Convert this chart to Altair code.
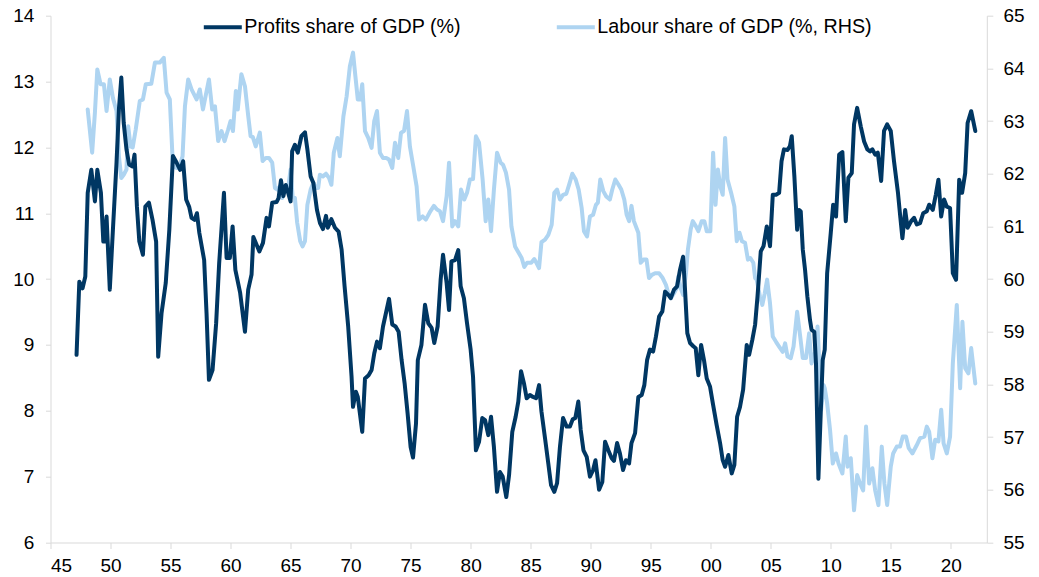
import altair as alt
import pandas as pd

PROFITS = "Profits share of GDP (%)"
LABOUR = "Labour share of GDP (%, RHS)"

profit_years = [
    1947.17, 1947.4, 1947.67, 1947.9, 1948.1, 1948.4, 1948.7, 1948.9, 1949.2, 1949.4, 1949.5, 1949.67, 1949.94,
    1950.2, 1950.5, 1950.7, 1950.9, 1951.1, 1951.33, 1951.55, 1951.83, 1952.0, 1952.2, 1952.4, 1952.7, 1952.9,
    1953.2, 1953.5, 1953.8, 1953.97, 1954.25, 1954.6, 1954.9, 1955.2, 1955.5, 1955.8, 1956.05, 1956.3, 1956.55,
    1956.75, 1957.0, 1957.2, 1957.4, 1957.8, 1958.0, 1958.2, 1958.5, 1958.8, 1959.05, 1959.45, 1959.67, 1959.94,
    1960.17, 1960.4, 1960.8, 1961.2, 1961.47, 1961.75, 1961.9, 1962.4, 1962.7, 1963.0, 1963.2, 1963.47, 1963.83,
    1964.0, 1964.2, 1964.4, 1964.6, 1964.8, 1965.0, 1965.13, 1965.36, 1965.6, 1965.9, 1966.2, 1966.4, 1966.67,
    1966.9, 1967.2, 1967.45, 1967.7, 1967.95, 1968.1, 1968.4, 1968.7, 1969.0, 1969.25, 1969.5, 1969.8, 1970.08,
    1970.2, 1970.44, 1970.6, 1970.97, 1971.2, 1971.5, 1971.75, 1971.97, 1972.2, 1972.44, 1972.7, 1973.0, 1973.2,
    1973.47, 1973.75, 1974.0, 1974.25, 1974.5, 1974.75, 1975.0, 1975.2, 1975.45, 1975.6, 1975.9, 1976.2, 1976.47,
    1976.75, 1976.97, 1977.25, 1977.5, 1977.7, 1978.0, 1978.2, 1978.4, 1978.7, 1978.97, 1979.17, 1979.44, 1979.7,
    1980.0, 1980.2, 1980.44, 1980.7, 1980.97, 1981.2, 1981.47, 1981.7, 1981.94, 1982.2, 1982.44, 1982.67, 1982.97,
    1983.2, 1983.47, 1983.75, 1983.97, 1984.2, 1984.44, 1984.67, 1984.94, 1985.2, 1985.45, 1985.7, 1985.9, 1986.2,
    1986.47, 1986.7, 1986.97, 1987.2, 1987.44, 1987.7, 1988.0, 1988.27, 1988.5, 1988.72, 1988.97, 1989.17, 1989.4,
    1989.67, 1989.94, 1990.2, 1990.4, 1990.7, 1990.97, 1991.2, 1991.47, 1991.75, 1991.94, 1992.2, 1992.44, 1992.7,
    1992.94, 1993.2, 1993.4, 1993.7, 1993.97, 1994.25, 1994.47, 1994.7, 1994.94, 1995.2, 1995.44, 1995.7, 1995.97,
    1996.2, 1996.47, 1996.67, 1996.94, 1997.2, 1997.44, 1997.7, 1997.86, 1998.05, 1998.28, 1998.55, 1998.75,
    1998.97, 1999.2, 1999.44, 1999.67, 1999.94, 2000.2, 2000.5, 2000.78, 2001.0, 2001.2, 2001.47, 2001.75, 2001.97,
    2002.2, 2002.44, 2002.7, 2003.0, 2003.2, 2003.47, 2003.7, 2003.9, 2004.17, 2004.4, 2004.67, 2004.94, 2005.17,
    2005.44, 2005.7, 2005.9, 2006.1, 2006.4, 2006.6, 2006.75, 2006.97, 2007.2, 2007.35, 2007.5, 2007.67, 2007.86,
    2008.05, 2008.27, 2008.4, 2008.63, 2008.77, 2008.97, 2009.17, 2009.33, 2009.5, 2009.7, 2010.0, 2010.2, 2010.44,
    2010.7, 2010.97, 2011.25, 2011.47, 2011.75, 2011.94, 2012.2, 2012.5, 2012.78, 2013.05, 2013.27, 2013.47,
    2013.7, 2013.92, 2014.2, 2014.44, 2014.7, 2015.0, 2015.27, 2015.6, 2015.8, 2015.97, 2016.2, 2016.4, 2016.7,
    2016.94, 2017.17, 2017.44, 2017.7, 2018.0, 2018.2, 2018.5, 2018.75, 2018.97, 2019.2, 2019.44, 2019.67, 2019.94,
    2020.17, 2020.44, 2020.7, 2020.94, 2021.2, 2021.4, 2021.7, 2022.04,
]
profit_values = [
    8.85, 9.96, 9.86, 10.04, 11.31, 11.66, 11.18, 11.66, 11.31, 10.57, 10.57, 10.95, 9.84,
    10.75, 11.77, 12.58, 13.06, 12.37, 11.97, 11.74, 11.71, 11.89, 11.1, 10.57, 10.37, 11.1,
    11.16, 10.9, 10.57, 8.82, 9.48, 9.94, 10.75, 11.87, 11.77, 11.66, 11.79, 11.21, 11.1,
    10.93, 10.9, 11.0, 10.7, 10.29, 9.48, 8.47, 8.62, 9.33, 10.24, 11.31, 10.32, 10.32,
    10.8, 10.14, 9.79, 9.2, 9.84, 10.07, 10.64, 10.42, 10.55, 10.93, 10.8, 11.16, 11.17,
    11.23, 11.5, 11.26, 11.43, 11.31, 11.18, 11.94, 12.04, 11.92, 12.17, 12.23, 11.97, 11.56,
    11.46, 11.05, 10.85, 10.76, 10.96, 10.78, 10.91, 10.78, 10.72, 10.45, 9.89, 9.28, 8.52,
    8.06, 8.29, 8.21, 7.68, 8.49, 8.54, 8.62, 8.87, 9.05, 8.95, 9.28, 9.53, 9.70,
    9.31, 9.28, 9.2, 8.77, 8.42, 7.96, 7.45, 7.29, 7.81, 8.77, 9.0, 9.61, 9.33,
    9.26, 9.03, 9.28, 9.99, 10.37, 9.94, 9.53, 10.27, 10.29, 10.44, 9.89, 9.71, 9.33,
    8.93, 8.52, 7.40, 7.53, 7.89, 7.86, 7.63, 7.91, 7.45, 6.77, 7.07, 7.0, 6.69,
    7.02, 7.68, 7.91, 8.14, 8.6, 8.42, 8.19, 8.24, 8.21, 8.19, 8.39, 7.99, 7.58,
    7.20, 6.87, 6.77, 6.9, 7.45, 7.89, 7.76, 7.76, 7.87, 7.89, 8.14, 7.71, 7.40,
    7.30, 7.0, 7.10, 7.25, 6.80, 6.92, 7.53, 7.40, 7.28, 7.24, 7.51, 7.35, 7.10,
    7.25, 7.20, 7.51, 7.66, 8.21, 8.24, 8.39, 8.77, 8.93, 8.90, 9.13, 9.43, 9.51,
    9.81, 9.76, 9.71, 9.84, 9.89, 10.14, 10.34, 9.84, 9.18, 9.03, 8.98, 8.95,
    8.54, 9.0, 8.77, 8.49, 8.37, 8.09, 7.78, 7.51, 7.25, 7.15, 7.33, 7.05, 7.18,
    7.91, 8.06, 8.32, 9.0, 8.85, 9.08, 9.31, 9.74, 10.42, 10.50, 10.80, 10.50, 11.28,
    11.28, 11.31, 11.79, 11.97, 11.96, 12.02, 12.17, 11.56, 10.75, 11.05, 11.03, 10.45, 10.14,
    9.74, 9.38, 9.23, 9.20, 8.72, 6.97, 7.99, 8.77, 8.93, 10.09, 10.70, 11.13, 10.95,
    11.89, 11.93, 10.88, 11.54, 11.61, 12.35, 12.60, 12.32, 12.09, 11.97, 11.94, 11.97,
    11.89, 11.92, 11.49, 12.25, 12.35, 12.25, 11.79, 11.31, 10.93, 10.62, 11.05, 10.78, 10.88,
    10.93, 10.83, 10.85, 11.0, 11.03, 11.13, 11.05, 11.28, 11.51, 10.95, 11.21, 11.10, 11.08,
    10.09, 9.99, 11.51, 11.31, 11.61, 12.37, 12.55, 12.25,
]

labour_years = [
    1948.1, 1948.47, 1948.7, 1948.9, 1949.17, 1949.45, 1949.67, 1949.94, 1950.2, 1950.5, 1950.7, 1950.9, 1951.1,
    1951.33, 1951.47, 1951.67, 1951.85, 1952.1, 1952.44, 1952.7, 1952.94, 1953.4, 1953.7, 1954.1, 1954.44, 1954.67,
    1954.94, 1955.2, 1955.5, 1955.7, 1956.0, 1956.2, 1956.47, 1956.75, 1957.17, 1957.44, 1957.7, 1958.2, 1958.47,
    1958.7, 1958.97, 1959.25, 1959.5, 1959.8, 1960.0, 1960.2, 1960.44, 1960.6, 1960.9, 1961.2, 1961.47, 1961.67,
    1961.85, 1962.1, 1962.44, 1962.67, 1962.94, 1963.2, 1963.47, 1963.7, 1963.9, 1964.1, 1964.3, 1964.55, 1964.8,
    1965.0, 1965.17, 1965.36, 1965.55, 1965.8, 1966.0, 1966.2, 1966.4, 1966.67, 1966.9, 1967.1, 1967.3, 1967.44,
    1967.7, 1967.95, 1968.2, 1968.4, 1968.6, 1968.9, 1969.1, 1969.4, 1969.67, 1969.94, 1970.2, 1970.4, 1970.6,
    1970.8, 1970.97, 1971.2, 1971.47, 1971.75, 1971.97, 1972.2, 1972.44, 1972.7, 1972.97, 1973.2, 1973.47, 1973.7,
    1973.97, 1974.2, 1974.45, 1974.7, 1974.94, 1975.2, 1975.5, 1975.7, 1976.0, 1976.27, 1976.6, 1976.94, 1977.2,
    1977.44, 1977.7, 1978.0, 1978.2, 1978.47, 1978.7, 1978.97, 1979.2, 1979.47, 1979.7, 1979.94, 1980.2, 1980.44,
    1980.7, 1981.0, 1981.25, 1981.47, 1981.7, 1981.94, 1982.2, 1982.5, 1982.7, 1982.94, 1983.2, 1983.4, 1983.7,
    1984.0, 1984.25, 1984.47, 1984.7, 1985.05, 1985.3, 1985.5, 1985.7, 1985.9, 1986.2, 1986.47, 1986.75, 1986.97,
    1987.2, 1987.44, 1987.7, 1987.97, 1988.2, 1988.47, 1988.75, 1989.0, 1989.25, 1989.44, 1989.7, 1989.94, 1990.2,
    1990.44, 1990.6, 1990.8, 1991.05, 1991.3, 1991.6, 1991.8, 1992.05, 1992.3, 1992.55, 1992.8, 1993.0, 1993.2,
    1993.4, 1993.6, 1993.97, 1994.17, 1994.4, 1994.65, 1994.86, 1995.1, 1995.36, 1995.7, 1996.0, 1996.27, 1996.47,
    1996.7, 1996.94, 1997.17, 1997.3, 1997.5, 1997.7, 1997.94, 1998.1, 1998.33, 1998.5, 1998.77, 1998.97, 1999.25,
    1999.47, 1999.67, 1999.97, 2000.2, 2000.4, 2000.6, 2000.8, 2001.0, 2001.2, 2001.4, 2001.7, 2001.97, 2002.17,
    2002.4, 2002.6, 2002.86, 2003.1, 2003.3, 2003.55, 2003.7, 2003.83, 2004.1, 2004.3, 2004.5, 2004.7, 2004.94,
    2005.17, 2005.44, 2005.7, 2006.0, 2006.2, 2006.4, 2006.67, 2006.9, 2007.2, 2007.44, 2007.67, 2007.94, 2008.2,
    2008.4, 2008.7, 2008.9, 2009.05, 2009.2, 2009.4, 2009.5, 2009.7, 2009.94, 2010.17, 2010.44, 2010.65, 2010.97,
    2011.25, 2011.4, 2011.67, 2011.94, 2012.2, 2012.44, 2012.7, 2012.94, 2013.2, 2013.47, 2013.7, 2013.97, 2014.25,
    2014.47, 2014.7, 2015.0, 2015.2, 2015.5, 2015.77, 2016.0, 2016.27, 2016.5, 2016.8, 2017.17, 2017.44, 2017.8,
    2018.0, 2018.2, 2018.47, 2018.7, 2018.97, 2019.2, 2019.4, 2019.67, 2019.94, 2020.17, 2020.5, 2020.78, 2020.97,
    2021.2, 2021.47, 2021.7, 2022.04,
]
labour_values = [
    63.22, 62.40, 63.16, 63.98, 63.70, 63.70, 63.19, 63.79, 63.44, 63.19, 62.33, 61.92, 61.98,
    62.08, 62.90, 62.52, 62.50, 62.84, 63.38, 63.41, 63.70, 63.71, 64.11, 64.11, 64.20, 63.54,
    63.41, 62.14, 62.11, 62.11, 62.33, 63.28, 63.79, 63.60, 63.41, 63.60, 63.22, 63.79, 63.22,
    63.28, 62.62, 62.81, 62.62, 62.84, 63.0, 62.81, 63.57, 63.22, 63.89, 63.66, 63.10, 62.71,
    62.70, 62.52, 62.78, 62.24, 62.30, 62.30, 62.21, 61.73, 61.70, 61.76, 61.54, 61.76, 61.73,
    62.08, 61.57, 61.54, 61.07, 60.72, 60.62, 60.72, 61.41, 61.70, 61.83, 61.73, 61.73, 61.98,
    61.95, 62.0, 61.92, 61.79, 62.40, 62.68, 62.33, 63.09, 63.47, 64.04, 64.30, 63.85, 63.41,
    63.41, 63.70, 62.81, 62.68, 62.49, 63.0, 63.19, 62.40, 62.30, 62.30, 62.27, 62.11, 62.59,
    62.30, 62.78, 62.81, 63.19, 62.52, 62.17, 61.76, 61.13, 61.19, 61.13, 61.27, 61.39, 61.32,
    61.29, 61.10, 61.57, 62.21, 61.0, 61.10, 61.0, 61.70, 61.51, 61.64, 61.89, 61.90, 62.71,
    62.59, 61.89, 61.10, 61.51, 60.91, 61.70, 62.40, 62.21, 62.17, 62.02, 61.70, 61.0, 60.62,
    60.50, 60.40, 60.23, 60.31, 60.31, 60.38, 60.30, 60.21, 60.70, 60.75, 60.84, 61.03, 61.64,
    61.70, 61.51, 61.60, 61.62, 61.79, 62.0, 61.89, 61.70, 61.35, 60.91, 60.81, 61.19, 61.22,
    61.41, 61.45, 61.89, 61.67, 61.57, 61.51, 61.70, 61.89, 61.80, 61.70, 61.51, 61.22, 61.10,
    61.39, 61.10, 60.88, 60.31, 60.37, 60.37, 60.02, 60.08, 60.11, 60.11, 60.02, 59.89, 59.73,
    59.64, 59.73, 59.83, 60.05, 59.83, 59.70, 60.11, 60.56, 60.94, 61.10, 61.0, 60.91, 61.10,
    61.10, 60.91, 60.91, 62.40, 61.41, 62.08, 61.76, 61.60, 62.68, 61.89, 61.64, 61.38, 60.72,
    60.88, 60.72, 60.69, 60.37, 60.40, 60.31, 60.02, 59.99, 59.67, 59.51, 59.73, 59.99, 59.54,
    58.91, 58.81, 58.72, 58.62, 58.78, 58.53, 58.50, 58.72, 59.38, 58.94, 58.50, 58.50, 58.97,
    58.40, 58.62, 59.10, 58.40, 57.52, 57.99, 57.93, 57.64, 57.14, 56.50, 56.69, 56.50, 56.31,
    57.01, 56.44, 56.60, 55.61, 56.28, 56.12, 55.99, 57.20, 56.12, 56.41, 55.99, 55.71, 56.82,
    56.12, 55.71, 56.44, 56.69, 56.82, 56.82, 57.01, 57.01, 56.79, 56.69, 56.85, 56.98, 57.01,
    57.20, 57.10, 56.60, 56.95, 56.92, 57.52, 56.88, 56.69, 57.01, 58.40, 59.51, 57.93, 59.19,
    58.31, 58.21, 58.69, 58.02,
]

x_ticks = list(range(1945, 2021, 5))
left_ticks = list(range(6, 15))
right_ticks = list(range(55, 66))

DARK = "#003763"
LIGHT = "#AED4F1"
FONT = "Liberation Sans"
AXIS_GREY = "#d9d9d9"

df_profits = pd.DataFrame({"year": profit_years, "value": profit_values, "series": PROFITS})
df_labour = pd.DataFrame({"year": labour_years, "value": labour_values, "series": LABOUR})

x_enc = alt.X(
    "year:Q",
    scale=alt.Scale(domain=[1945, 2023.0], nice=False, zero=False),
    axis=alt.Axis(values=x_ticks, format="d", labelExpr="substring(datum.label, 2)",
                  title=None, tickSize=6, labelPadding=8, grid=False),
)

color_enc = alt.Color(
    "series:N",
    scale=alt.Scale(domain=[PROFITS, LABOUR], range=[DARK, LIGHT]),
    legend=alt.Legend(
        orient="none", legendX=151.3, legendY=-9.7, direction="horizontal", columns=2,
        title=None, symbolType="stroke", symbolSize=1444, symbolStrokeWidth=4,
        labelFont=FONT, labelFontSize=19.7, labelColor="#000000", labelOffset=0.5,
        labelLimit=1000, columnPadding=87, padding=0,
    ),
)

labour_line = alt.Chart(df_labour).mark_line(strokeWidth=4, strokeJoin="round", strokeCap="round").encode(
    x=x_enc,
    y=alt.Y("value:Q", scale=alt.Scale(domain=[55, 65], nice=False, zero=False),
            axis=alt.Axis(values=right_ticks, orient="right", title=None, tickSize=6,
                          labelPadding=10.2, grid=False)),
    color=color_enc,
)

profit_line = alt.Chart(df_profits).mark_line(strokeWidth=4, strokeJoin="round", strokeCap="round").encode(
    x=x_enc,
    y=alt.Y("value:Q", scale=alt.Scale(domain=[6, 14], nice=False, zero=False),
            axis=alt.Axis(values=left_ticks, orient="left", title=None, tickSize=5,
                          labelPadding=11.6, grid=False)),
    color=color_enc,
)

chart = alt.layer(labour_line, profit_line).resolve_scale(y="independent").properties(
    width=936.3,
    height=526.8,
    autosize=alt.AutoSizeParams(type="none"),
    padding={"left": 42.5, "top": 7.7, "right": 44.2, "bottom": 33.5},
    background="white",
).configure_view(stroke=None).configure_axis(
    domainColor=AXIS_GREY, tickColor=AXIS_GREY, domainWidth=1, tickWidth=1,
    labelFont=FONT, labelFontSize=19, labelColor="#000000",
)

chart.save("out.html", embed_options={"renderer": "svg", "actions": False})
